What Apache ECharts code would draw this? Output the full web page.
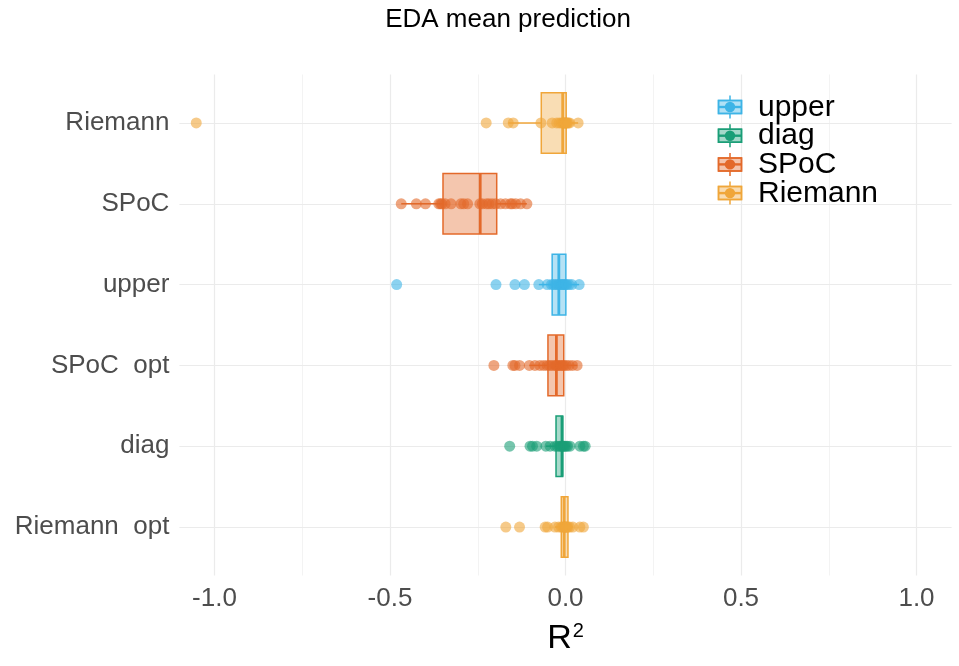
<!DOCTYPE html>
<html>
<head>
<meta charset="utf-8">
<script src="https://cdn.jsdelivr.net/npm/echarts@6/dist/echarts.min.js"></script>
<style>
  html, body { margin: 0; padding: 0; background: #ffffff; }
  #chart { width: 959px; height: 666px; }
</style>
</head>
<body>
<div id="chart"></div>
<script>
// Rows from top to bottom, and the method that colours each row
const categories = ['Riemann', 'SPoC', 'upper', 'SPoC  opt', 'diag', 'Riemann  opt'];
const rowMethod = ['Riemann', 'SPoC', 'upper', 'SPoC', 'diag', 'Riemann'];

// Legend order and colours
const methods = ['upper', 'diag', 'SPoC', 'Riemann'];
const methodColors = ['#3DB4E6', '#1A9E77', '#E3692A', '#F0A63A'];

// Box statistics per row (R^2)
const whiskerLow  = [-0.163, -0.468, -0.076, -0.103, -0.056, -0.030];
const q1          = [-0.069, -0.349, -0.038, -0.050, -0.027, -0.012];
const median      = [-0.008, -0.243, -0.019, -0.026, -0.010, -0.004];
const q3          = [ 0.002, -0.196,  0.001, -0.005, -0.008,  0.007];
const whiskerHigh = [ 0.036, -0.110,  0.039,  0.033,  0.013,  0.021];

// Individual fold scores per row
const riemannScores = [-1.052, -0.226, -0.163, -0.149, -0.070, -0.038, -0.025, -0.018, -0.012, -0.008,
  -0.006, -0.004, -0.002, 0.000, 0.001, 0.003, 0.005, 0.008, 0.012, 0.036];
const spocScores = [-0.468, -0.425, -0.399, -0.361, -0.356, -0.352, -0.343, -0.326, -0.298, -0.290,
  -0.279, -0.244, -0.237, -0.225, -0.218, -0.209, -0.199, -0.185, -0.171, -0.157, -0.152, -0.142,
  -0.128, -0.110];
const upperScores = [-0.481, -0.198, -0.144, -0.117, -0.076, -0.052, -0.040, -0.034, -0.028, -0.022,
  -0.018, -0.014, -0.010, -0.006, -0.003, 0.000, 0.004, 0.010, 0.018, 0.039];
const spocOptScores = [-0.204, -0.150, -0.144, -0.131, -0.103, -0.087, -0.073, -0.062, -0.052, -0.045,
  -0.038, -0.030, -0.026, -0.022, -0.018, -0.012, -0.008, -0.004, 0.002, 0.010, 0.020, 0.033];
const diagScores = [-0.159, -0.101, -0.094, -0.082, -0.056, -0.044, -0.030, -0.024, -0.018, -0.014,
  -0.010, -0.008, -0.005, -0.002, 0.002, 0.006, 0.013, 0.041, 0.051, 0.056];
const riemannOptScores = [-0.170, -0.131, -0.058, -0.051, -0.030, -0.020, -0.012, -0.008, -0.005, -0.002,
  0.000, 0.002, 0.004, 0.007, 0.012, 0.021, 0.041, 0.051];
const rowScores = [riemannScores, spocScores, upperScores, spocOptScores, diagScores, riemannOptScores];

// Axis ticks
const xTicks = [-1.0, -0.5, 0.0, 0.5, 1.0];
const xMinorTicks = [-0.75, -0.25, 0.25, 0.75];

function colorOf(method) { return methodColors[methods.indexOf(method)]; }
function withAlpha(hex, a) {
  const n = parseInt(hex.slice(1), 16);
  return 'rgba(' + ((n >> 16) & 255) + ',' + ((n >> 8) & 255) + ',' + (n & 255) + ',' + a + ')';
}

const FONT = 'Liberation Sans';
const chart = echarts.init(document.getElementById('chart'), null, { renderer: 'canvas' });

const gridLines = [];
xMinorTicks.forEach(v => gridLines.push({ xAxis: v, lineStyle: { color: '#F3F3F3', width: 1, type: 'solid' } }));
xTicks.forEach(v => gridLines.push({ xAxis: v, lineStyle: { color: '#EBEBEB', width: 1.2, type: 'solid' } }));
categories.forEach((c, i) => gridLines.push({ yAxis: i, lineStyle: { color: '#EBEBEB', width: 1.2, type: 'solid' } }));

const boxData = categories.map((c, i) => [i, whiskerLow[i], q1[i], median[i], q3[i], whiskerHigh[i]]);

const series = [
  {
    type: 'scatter',
    name: 'grid',
    data: [],
    silent: true,
    z: 0,
    markLine: {
      silent: true,
      symbol: ['none', 'none'],
      label: { show: false },
      animation: false,
      z: 0,
      lineStyle: { type: 'solid' },
      data: gridLines
    }
  },
  {
    type: 'custom',
    name: 'boxes',
    z: 3,
    data: boxData,
    encode: { x: [1, 2, 3, 4, 5], y: 0 },
    renderItem: function (params, api) {
      const row = api.value(0);
      const color = colorOf(rowMethod[row]);
      const lo = api.coord([api.value(1), row]);
      const a = api.coord([api.value(2), row]);
      const m = api.coord([api.value(3), row]);
      const b = api.coord([api.value(4), row]);
      const hi = api.coord([api.value(5), row]);
      const h = api.size([0, 0.75])[1];
      const stroke = { stroke: color, lineWidth: 1.5 };
      return {
        type: 'group',
        children: [
          { type: 'line', shape: { x1: lo[0], y1: lo[1], x2: a[0], y2: a[1] }, style: stroke },
          { type: 'line', shape: { x1: b[0], y1: b[1], x2: hi[0], y2: hi[1] }, style: stroke },
          { type: 'rect', shape: { x: a[0], y: a[1] - h / 2, width: b[0] - a[0], height: h },
            style: { fill: withAlpha(color, 0.38), stroke: color, lineWidth: 1.5 } },
          { type: 'line', shape: { x1: m[0], y1: m[1] - h / 2, x2: m[0], y2: m[1] + h / 2 },
            style: { stroke: color, lineWidth: 2.8 } }
        ]
      };
    }
  }
];

rowScores.forEach((scores, i) => {
  series.push({
    type: 'scatter',
    name: rowMethod[i],
    z: 4,
    symbol: 'circle',
    symbolSize: 11,
    itemStyle: { color: colorOf(rowMethod[i]), opacity: 0.6 },
    data: scores.map(v => [v, i])
  });
});

// Legend: boxplot key with a point on top
const legendTop = 107, legendStep = 28.7, keyX = 730;
const legendGraphics = [];
methods.forEach((m, k) => {
  const cy = legendTop + k * legendStep;
  const col = methodColors[k];
  legendGraphics.push(
    { type: 'line', z: 100, shape: { x1: keyX, y1: cy - 11.5, x2: keyX, y2: cy + 11.5 }, style: { stroke: col, lineWidth: 1.5 } },
    { type: 'rect', z: 100, shape: { x: keyX - 11.5, y: cy - 6.5, width: 23, height: 13 },
      style: { fill: '#ffffff', stroke: col, lineWidth: 1.5 } },
    { type: 'rect', z: 101, shape: { x: keyX - 11.5, y: cy - 6.5, width: 23, height: 13 },
      style: { fill: withAlpha(col, 0.4), stroke: col, lineWidth: 1.5 } },
    { type: 'line', z: 102, shape: { x1: keyX - 11.5, y1: cy, x2: keyX + 11.5, y2: cy }, style: { stroke: col, lineWidth: 2.4 } },
    { type: 'circle', z: 103, shape: { cx: keyX, cy: cy, r: 5.2 }, style: { fill: col } }
  );
  legendGraphics.push({
    type: 'text',
    z: 100,
    left: 758,
    top: cy - 14.5,
    style: { text: m, fontFamily: FONT, fontSize: 30, fill: '#000000' }
  });
});

chart.setOption({
  animation: false,
  backgroundColor: '#ffffff',
  title: {
    text: 'EDA mean prediction',
    left: 503,
    textAlign: 'center',
    top: 2,
    textStyle: { fontFamily: FONT, fontSize: 26, fontWeight: 'normal', color: '#000000' }
  },
  grid: { left: 179.4, right: 7.4, top: 74.5, bottom: 90.5, containLabel: false },
  xAxis: {
    type: 'value',
    min: -1.1,
    max: 1.1,
    axisLine: { show: false },
    axisTick: { show: false },
    splitLine: { show: false },
    axisLabel: {
      customValues: xTicks,
      formatter: v => v.toFixed(1),
      fontFamily: FONT,
      fontSize: 26,
      color: '#4D4D4D',
      margin: 10
    },
    name: '{r|R}{s|2}',
    nameLocation: 'middle',
    nameGap: 46,
    nameTextStyle: {
      rich: {
        r: { fontFamily: FONT, fontSize: 34, color: '#000000', verticalAlign: 'bottom' },
        s: { fontFamily: FONT, fontSize: 20, color: '#000000', verticalAlign: 'bottom', padding: [0, 0, 14, 1] }
      }
    }
  },
  yAxis: {
    type: 'value',
    inverse: true,
    min: -0.6,
    max: 5.6,
    axisLine: { show: false },
    axisTick: { show: false },
    splitLine: { show: false },
    axisLabel: {
      customValues: categories.map((c, i) => i),
      formatter: v => categories[Math.round(v)],
      fontFamily: FONT,
      fontSize: 26,
      color: '#4D4D4D',
      margin: 10
    }
  },
  graphic: legendGraphics,
  series: series
});
</script>
</body>
</html>
